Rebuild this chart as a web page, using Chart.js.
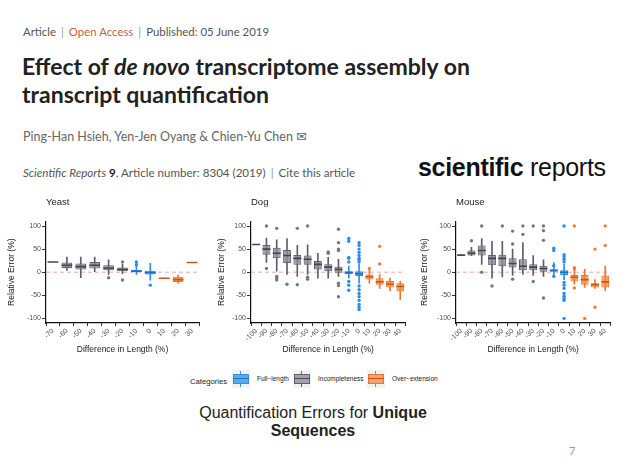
<!DOCTYPE html>
<html lang="en">
<head>
    <meta charset="UTF-8">
    <title>Quantification Errors for Unique Sequences</title>
    <style>
        body { margin: 0; width: 626px; height: 470px; background: #fff; position: relative; overflow: hidden; font-family: Lato, sans-serif; }
        .abs { position: absolute; white-space: nowrap; }
        .sep { color: #999; margin: 0 5px; }
        canvas { position: absolute; top: 190px; }
        .key { position: absolute; top: 370px; width: 18px; height: 18px; background: #f2f2f2; }
        .key .wh { position: absolute; left: 8px; top: 1px; width: 1px; height: 16px; }
        .key .bx { position: absolute; left: 1px; top: 4px; width: 14px; height: 8px; border: 1px solid; }
        .key .md { position: absolute; left: 1px; top: 8px; width: 16px; height: 1px; }
        .lg { position: absolute; top: 375px; font: 6.5px "Liberation Sans", Arial, sans-serif; color: #222; }
    </style>
</head>
<body>

    <div class="abs" style="left:23px; top:25px; font-size:11.4px; color:#555;">Article<span class="sep">|</span><span style="color:#c4623c;">Open Access</span><span class="sep">|</span>Published: 05 June 2019</div>
    <div class="abs" style="left:22px; top:52px; font-size:23px; font-weight:bold; line-height:28px; color:#222;">Effect of <i>de novo</i> transcriptome assembly on<br>transcript quantification</div>
    <div class="abs" style="left:23px; top:129px; font-size:12.5px; color:#666;">Ping-Han Hsieh, Yen-Jen Oyang &amp; Chien-Yu Chen <span style="color:#4d6a8a; font-family:'DejaVu Sans'; font-size:13px;">✉</span></div>
    <div class="abs" style="left:23px; top:166px; font-size:11.6px; color:#555;"><i>Scientific Reports</i> <b style="color:#222;">9</b>, Article number: 8304 (2019)<span class="sep">|</span>Cite this article</div>
    <div class="abs" style="left:418px; top:153px; font:25px 'Liberation Sans', Arial, sans-serif; color:#111; letter-spacing:-0.3px;"><b>scientific</b> reports</div>

    <canvas id="yeast" width="206" height="170" style="left:0px;"></canvas>
    <canvas id="dog" width="205" height="170" style="left:206px;"></canvas>
    <canvas id="mouse" width="205" height="170" style="left:411px;"></canvas>

    <div class="lg" style="left:190px; top:377px; font-size:7.7px;">Categories</div>
    <div class="key" style="left:232px;"><div class="wh" style="background:#3a8ee0;"></div><div class="bx" style="background:#5aaaf0; border-color:#3a8ee0;"></div><div class="md" style="background:#2a70b8;"></div></div>
    <div class="lg" style="left:257px;">Full−length</div>
    <div class="key" style="left:293px;"><div class="wh" style="background:#60606a;"></div><div class="bx" style="background:#a2a2aa; border-color:#60606a;"></div><div class="md" style="background:#4a4a52;"></div></div>
    <div class="lg" style="left:318px;">Incompleteness</div>
    <div class="key" style="left:367px;"><div class="wh" style="background:#e87830;"></div><div class="bx" style="background:#f4a070; border-color:#e87830;"></div><div class="md" style="background:#c05a18;"></div></div>
    <div class="lg" style="left:392px;">Over−extension</div>

    <div class="abs" style="left:0; width:626px; top:404px; text-align:center; font:16px 'Liberation Sans', Arial, sans-serif; line-height:18px; color:#222;">Quantification Errors for <b>Unique</b><br><b>Sequences</b></div>
    <div class="abs" style="left:569px; top:444px; font-size:11px; color:#999;">7</div>

    <script src="https://cdn.jsdelivr.net/npm/chart.js"></script>
    <script>
        // y axis ticks shared by all panels
        const yTicks = [-100, -50, 0, 50, 100];

        // Yeast
        const yeastLabels = ['-70', '-60', '-50', '-40', '-30', '-20', '-10', '0', '10', '20', '30'];
        const yeastLo  = [22, 4, -12, 1, -5, -3, -5, -17, -13, -24, 21];
        const yeastQ1  = [22, 9, 6, 8, 4, 2, 0, -5, -13, -21, 21];
        const yeastMed = [22, 15, 12, 15, 9, 6, 2, -1, -13, -16, 21];
        const yeastQ3  = [22, 21, 19, 22, 15, 10, 5, 3, -13, -10, 21];
        const yeastHi  = [22, 33, 33, 33, 27, 17, 13, 19, -13, -6, 21];
        const yeastOut = [[], [], [], [], [-12], [22, -17], [22, 16], [-28], [], [], []];

        // Dog
        const longLabels = ['-100', '-90', '-80', '-70', '-60', '-50', '-40', '-30', '-20', '-10', '0', '10', '20', '30', '40'];
        const dogLo  = [60, 21, 2, -5, -9, -5, -13, -13, -9, -13, -24, -24, -35, -40, -59];
        const dogQ1  = [60, 38, 30, 20, 16, 16, 6, 2, -1, -4, -8, -16, -27, -33, -42];
        const dogMed = [60, 50, 41, 36, 30, 28, 17, 11, 6, -1, -3, -10, -21, -26, -31];
        const dogQ3  = [60, 59, 53, 48, 37, 36, 24, 17, 12, 2, 2, -5, -13, -19, -24];
        const dogHi  = [60, 74, 70, 73, 58, 59, 41, 32, 28, 13, 18, 5, -5, -13, -20];
        const dogOut = [
            [], [100, 8], [95, -9, -13, -17], [-26], [95, -27], [100, -11, -15], [], [44, 41],
            [93, 64, 50, 47, -24, -29, -53],
            [73, 67, 32, 30, 22, -20, -28, -39],
            [64, 58, 50, 43, 36, 30, 27, 22, -30, -38, -46, -53, -61, -70, -76, -81],
            [8], [56, 18], [], []
        ];

        // Mouse
        const mouseLo  = [37, 36, 17, -13, -10, -7, -5, -7, -9, -11, -16, -26, -33, -35, -40];
        const mouseQ1  = [37, 36, 36, 15, 13, 10, 4, 4, 0, 1, -6, -20, -27, -33, -33];
        const mouseMed = [37, 41, 47, 30, 30, 19, 13, 11, 8, 4, 0, -11, -16, -27, -21];
        const mouseQ3  = [37, 47, 58, 37, 38, 30, 28, 17, 14, 6, 4, -6, -6, -24, -7];
        const mouseHi  = [37, 54, 73, 67, 67, 50, 64, 36, 27, 21, 17, 6, 6, -16, 13];
        const mouseOut = [
            [], [68], [100, 0], [-30], [100], [89, 61, -15], [100, 82], [100, -20],
            [100, 90, 69, -56],
            [52, 47, 14, -9],
            [100, 38, 33, 28, 22, -22, -28, -35, -46, -52, -57, -61, -100],
            [100, 10, 7, -34], [-100], [50, -76], [100, 58]
        ];

        const palette = {
            full: { fill: 'rgba(58,156,240,0.85)', line: '#2a8ee6', med: '#1f70c0', pt: '#2a8ee6' },
            inc:  { fill: 'rgba(140,140,150,0.85)', line: '#5e5e68', med: '#45454d', pt: '#77777f' },
            over: { fill: 'rgba(242,140,70,0.85)', line: '#ee7426', med: '#c85a14', pt: '#f08030' }
        };

        function groupOf(label) {
            const v = parseFloat(label);
            if (v <= -20) return 'inc';
            if (v <= 0) return 'full';
            return 'over';
        }

        // dashed reference line at 0 error
        const zeroLine = {
            id: 'zeroLine',
            beforeDatasetsDraw(chart) {
                const { ctx, chartArea } = chart;
                const y = chart.scales.y.getPixelForValue(0);
                ctx.save();
                ctx.strokeStyle = '#f2a4ac';
                ctx.lineWidth = 1;
                ctx.setLineDash([4, 3]);
                ctx.beginPath();
                ctx.moveTo(chartArea.left, y);
                ctx.lineTo(chartArea.right, y);
                ctx.stroke();
                ctx.restore();
            }
        };

        const axisFont = { family: "'Liberation Sans', Arial, sans-serif", size: 7 };
        const titleFont = { family: "'Liberation Sans', Arial, sans-serif", size: 8.5 };

        function makePanel(id, title, labels, lo, q1, med, q3, hi, out, yWidth, yTitlePad, medHalf) {
            const groups = labels.map(groupOf);
            const outPts = [];
            out.forEach((vals, i) => vals.forEach(v => outPts.push({ x: labels[i], y: v })));

            new Chart(document.getElementById(id), {
                type: 'bar',
                data: {
                    labels: labels,
                    datasets: [
                        {
                            label: 'whisker',
                            data: labels.map((l, i) => [lo[i], hi[i]]),
                            backgroundColor: groups.map(g => palette[g].line),
                            barThickness: 1,
                            grouped: false,
                            order: 4
                        },
                        {
                            label: 'box',
                            data: labels.map((l, i) => [q1[i], q3[i]]),
                            backgroundColor: groups.map(g => palette[g].fill),
                            borderColor: groups.map(g => palette[g].line),
                            borderWidth: 1,
                            borderSkipped: false,
                            barPercentage: 0.76,
                            categoryPercentage: 1,
                            grouped: false,
                            order: 3
                        },
                        {
                            type: 'scatter',
                            label: 'median',
                            data: labels.map((l, i) => ({ x: l, y: med[i] })),
                            pointStyle: 'line',
                            pointRadius: medHalf,
                            pointBorderWidth: 1.6,
                            pointBorderColor: groups.map(g => palette[g].med),
                            order: 2
                        },
                        {
                            type: 'scatter',
                            label: 'outlier',
                            data: outPts,
                            pointRadius: 1.7,
                            pointBorderWidth: 0,
                            pointBackgroundColor: c => palette[groupOf(c.raw.x)].pt,
                            order: 1
                        }
                    ]
                },
                options: {
                    responsive: false,
                    animation: false,
                    events: [],
                    layout: { padding: { right: 3 } },
                    plugins: {
                        legend: { display: false },
                        tooltip: { enabled: false },
                        title: {
                            display: true,
                            text: title,
                            align: 'start',
                            fullSize: false,
                            color: '#222',
                            font: { family: "'Liberation Sans', Arial, sans-serif", size: 9.5, weight: 'normal' },
                            padding: { top: 7, bottom: 13 }
                        }
                    },
                    scales: {
                        x: {
                            type: 'category',
                            offset: true,
                            afterFit: s => { s.height = 37; },
                            border: { display: true, color: '#111', width: 1.2 },
                            grid: { display: true, drawOnChartArea: false, drawTicks: true, tickLength: 3, color: '#333' },
                            ticks: { autoSkip: false, maxRotation: 45, minRotation: 45, padding: 1, color: '#4d4d4d', font: axisFont },
                            title: { display: true, text: 'Difference in Length (%)', color: '#222', font: titleFont, padding: { top: 0, bottom: 5 } }
                        },
                        y: {
                            min: -110,
                            max: 110,
                            afterFit: s => { s.width = yWidth; },
                            afterBuildTicks: s => { s.ticks = yTicks.map(v => ({ value: v })); },
                            border: { display: true, color: '#111', width: 1.2 },
                            grid: { display: true, drawOnChartArea: false, drawTicks: true, tickLength: 4, color: '#333' },
                            ticks: { padding: 1, color: '#4d4d4d', font: axisFont },
                            title: { display: true, text: 'Relative Error (%)', color: '#222', font: titleFont, padding: { top: yTitlePad, bottom: 0 } }
                        }
                    }
                },
                plugins: [zeroLine]
            });
        }

        makePanel('yeast', 'Yeast', yeastLabels, yeastLo, yeastQ1, yeastMed, yeastQ3, yeastHi, yeastOut, 46, 7, 5.4);
        makePanel('dog', 'Dog', longLabels, dogLo, dogQ1, dogMed, dogQ3, dogHi, dogOut, 45, 11, 4);
        makePanel('mouse', 'Mouse', longLabels, mouseLo, mouseQ1, mouseMed, mouseQ3, mouseHi, mouseOut, 45, 9, 4);
    </script>

</body>
</html>
